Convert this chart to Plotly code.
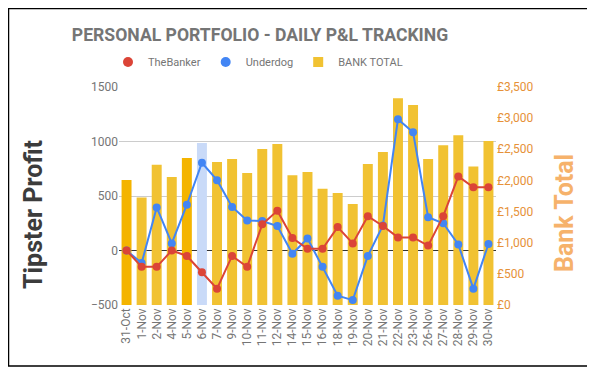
import plotly.graph_objects as go

dates = ["31-Oct", "1-Nov", "2-Nov", "4-Nov", "5-Nov", "6-Nov", "7-Nov", "9-Nov", "10-Nov",
         "11-Nov", "12-Nov", "14-Nov", "15-Nov", "16-Nov", "18-Nov", "19-Nov", "20-Nov",
         "21-Nov", "22-Nov", "23-Nov", "26-Nov", "27-Nov", "28-Nov", "29-Nov", "30-Nov"]
the_banker = [0, -150, -150, 0, -50, -200, -350, -50, -150, 240, 365, 115, 15, 15, 215, 65,
              315, 225, 120, 120, 45, 315, 680, 580, 580]
underdog = [0, -115, 395, 65, 420, 805, 645, 400, 275, 270, 225, -30, 110, -150, -415, -455,
            -50, 230, 1205, 1085, 305, 250, 55, -350, 60]
bank_total = [2005, 1725, 2250, 2055, 2360, 2600, 2295, 2345, 2120, 2505, 2585, 2085, 2135,
              1865, 1800, 1620, 2265, 2455, 3320, 3210, 2345, 2565, 2725, 2225, 2635]
bar_colors = ["#F4B400", "#F1C232", "#F1C232", "#F1C232", "#F4B400", "#C9DAF8"] + ["#F1C232"] * 19

left_ticks = [-500, 0, 500, 1000, 1500]
right_ticks = [0, 500, 1000, 1500, 2000, 2500, 3000, 3500]
right_labels = ["£0", "£500", "£1,000", "£1,500", "£2,000", "£2,500", "£3,000", "£3,500"]

RED = "#DB4437"
BLUE = "#4285F4"
GOLD = "#F1C232"
FONT = "Roboto"

# The page body has an 8px default margin; the figure is sized/placed to compensate.
W, H = 587, 368
ML, MT, PW, PH = 111, 79, 377, 218


def px(xr):  # reference pixel x -> paper x
    return (xr - 119) / PW


def py(yr):  # reference pixel y -> paper y
    return (305 - yr) / PH


fig = go.Figure()
fig.add_trace(go.Bar(x=dates, y=bank_total, yaxis="y2", marker=dict(color=bar_colors, line=dict(width=0)),
                     name="BANK TOTAL", showlegend=False))
fig.add_trace(go.Scatter(x=dates, y=underdog, yaxis="y3", mode="lines+markers", name="Underdog",
                         line=dict(color=BLUE, width=2), marker=dict(color=BLUE, size=8),
                         showlegend=False))
fig.add_trace(go.Scatter(x=dates, y=the_banker, yaxis="y3", mode="lines+markers", name="TheBanker",
                         line=dict(color=RED, width=2), marker=dict(color=RED, size=8),
                         showlegend=False))
# legend proxies (marker only)
fig.add_trace(go.Scatter(x=[None], y=[None], mode="markers", name="TheBanker",
                         marker=dict(color=RED, size=10)))
fig.add_trace(go.Scatter(x=[None], y=[None], mode="markers", name="Underdog",
                         marker=dict(color=BLUE, size=10)))
fig.add_trace(go.Scatter(x=[None], y=[None], mode="markers", name="BANK TOTAL",
                         marker=dict(color=GOLD, size=10, symbol="square")))

fig.update_layout(
    width=W, height=H,
    margin=dict(l=ML, r=W - ML - PW, t=MT, b=H - MT - PH, autoexpand=False),
    paper_bgcolor="white", plot_bgcolor="white",
    font=dict(family=FONT, color="#757575", size=12),
    title=dict(text="<b>PERSONAL PORTFOLIO - DAILY P&L TRACKING</b>", xref="paper", x=px(260),
               xanchor="center", yref="container", y=1 - 27 / H, yanchor="middle",
               font=dict(size=17.6, color="#757575", family=FONT)),
    legend=dict(orientation="h", x=px(258), xanchor="center", y=py(62), yanchor="middle",
                font=dict(size=11, color="#757575"), itemwidth=30, bgcolor="rgba(0,0,0,0)"),
    bargap=0.34,
    xaxis=dict(type="category", tickangle=-90, tickfont=dict(size=12, color="#757575"),
               showgrid=False, showline=False, ticks="", range=[-0.5, 24.5]),
    yaxis=dict(range=[-500, 1500], tickvals=left_ticks, showgrid=True, gridcolor="#CCCCCC",
               zeroline=True, zerolinecolor="#333333", zerolinewidth=1,
               tickfont=dict(size=12, color="#757575"), ticks="", showline=False),
    yaxis2=dict(range=[0, 3500], tickvals=right_ticks, ticktext=right_labels, overlaying="y",
                side="right", showgrid=False, zeroline=False,
                tickfont=dict(size=12, color="#E69138"), ticks=""),
    yaxis3=dict(range=[-500, 1500], overlaying="y", visible=False, showgrid=False, zeroline=False),
    annotations=[
        dict(text="<b>Tipster Profit</b>", textangle=-90, xref="paper", yref="paper",
             x=px(33), y=py(215), xanchor="center", yanchor="middle",
             showarrow=False, font=dict(size=25, color="#3C3C3C", family=FONT)),
        dict(text="<b>Bank Total</b>", textangle=-90, xref="paper", yref="paper",
             x=px(564), y=py(213), xanchor="center", yanchor="middle",
             showarrow=False, font=dict(size=25, color="#F6B26B", family=FONT)),
    ],
    shapes=[dict(type="rect", xref="paper", yref="paper",
                 x0=px(8.5), x1=px(588),
                 y0=py(366), y1=py(8.5),
                 line=dict(color="black", width=1.5), fillcolor="rgba(0,0,0,0)")],
)

fig.write_html("out.html")
